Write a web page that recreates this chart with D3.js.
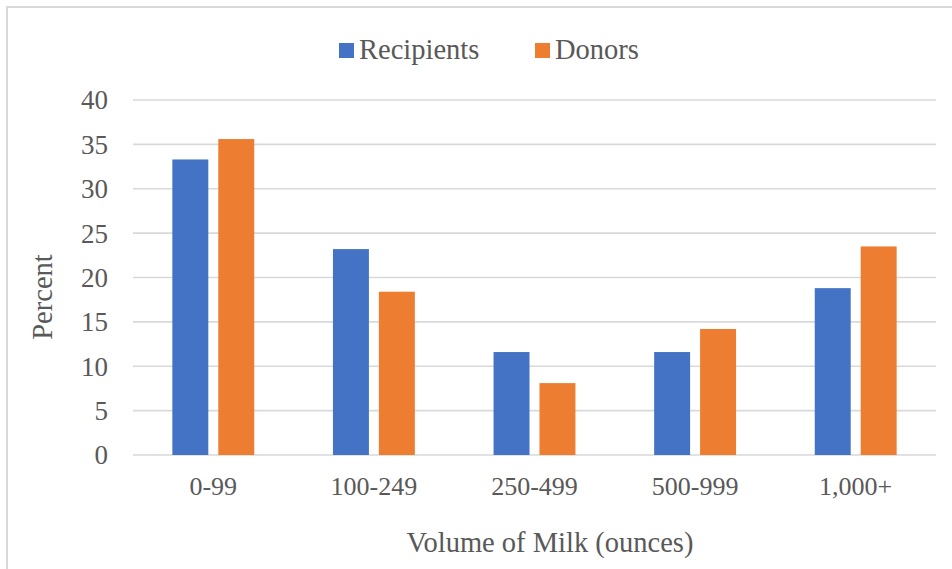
<!DOCTYPE html>
<html>
<head>
<meta charset="utf-8">
<script src="https://cdn.jsdelivr.net/npm/d3@7"></script>
<style>
  html, body { margin: 0; padding: 0; background: #fff; }
  svg { display: block; }
</style>
</head>
<body>
<svg id="chart" width="952" height="569"></svg>
<script>
// Share of participants by volume of milk
const categories = ["0-99", "100-249", "250-499", "500-999", "1,000+"];
const seriesNames = ["Recipients", "Donors"];
const recipients = [33.3, 23.2, 11.6, 11.6, 18.8];
const donors = [35.6, 18.4, 8.1, 14.2, 23.5];
const yTicks = [0, 5, 10, 15, 20, 25, 30, 35, 40];
const colors = ["#4472C4", "#ED7D31"];

const seriesValues = [recipients, donors];
const rows = categories.map((c, i) => ({ cat: c, values: seriesValues.map(s => s[i]) }));

const FONT = "'Liberation Serif', 'Times New Roman', Times, 'DejaVu Serif', serif";
const TEXT = "#595959";

const svg = d3.select("#chart")
  .attr("font-family", FONT);
const W = 952, H = 569;
const plot = { left: 133, right: 936, top: 100, bottom: 455 };

// chart frame (right and bottom edges fall outside the view)
svg.append("path")
  .attr("d", `M7,${H + 5} L7,7 L${W + 5},7`)
  .attr("fill", "none")
  .attr("stroke", "#d9d9d9")
  .attr("stroke-width", 2);

const y = d3.scaleLinear().domain([0, 40]).range([plot.bottom, plot.top]);
const x0 = d3.scaleBand().domain(categories).range([plot.left, plot.right]).padding(0);
const groupW = x0.bandwidth() * 0.51;
const x1 = d3.scaleBand().domain(seriesNames).range([0, groupW]).paddingInner(0.2174).paddingOuter(0);

// horizontal gridlines
svg.append("g")
  .selectAll("line")
  .data(yTicks)
  .join("line")
  .attr("x1", plot.left)
  .attr("x2", plot.right)
  .attr("y1", d => y(d))
  .attr("y2", d => y(d))
  .attr("stroke", "#d9d9d9")
  .attr("stroke-width", 1.6);

// y tick labels
svg.append("g")
  .selectAll("text")
  .data(yTicks)
  .join("text")
  .attr("x", 108)
  .attr("y", d => y(d))
  .attr("dy", "0.35em")
  .attr("text-anchor", "end")
  .attr("font-family", FONT)
  .attr("fill", TEXT)
  .attr("font-size", 27)
  .text(d => d);

// bars
const groups = svg.append("g")
  .selectAll("g")
  .data(rows)
  .join("g")
  .attr("transform", d => `translate(${x0(d.cat) + (x0.bandwidth() - groupW) / 2},0)`);

groups.selectAll("rect")
  .data(d => d.values.map((v, i) => ({ name: seriesNames[i], v, i })))
  .join("rect")
  .attr("x", d => x1(d.name))
  .attr("width", x1.bandwidth())
  .attr("y", d => y(d.v))
  .attr("height", d => y(0) - y(d.v))
  .attr("fill", d => colors[d.i]);

// x tick labels
svg.append("g")
  .selectAll("text")
  .data(categories)
  .join("text")
  .attr("x", d => x0(d) + x0.bandwidth() / 2)
  .attr("y", 495)
  .attr("text-anchor", "middle")
  .attr("font-family", FONT)
  .attr("fill", TEXT)
  .attr("font-size", 26)
  .text(d => d);

// axis titles
svg.append("text")
  .attr("x", 550)
  .attr("y", 552)
  .attr("text-anchor", "middle")
  .attr("font-family", FONT)
  .attr("fill", TEXT)
  .attr("font-size", 28.5)
  .text("Volume of Milk (ounces)");

svg.append("text")
  .attr("transform", "translate(52,297) rotate(-90)")
  .attr("text-anchor", "middle")
  .attr("font-family", FONT)
  .attr("fill", TEXT)
  .attr("font-size", 28.5)
  .text("Percent");

// legend
const legendX = [339, 535];
const legend = svg.append("g")
  .selectAll("g")
  .data(seriesNames)
  .join("g")
  .attr("transform", (d, i) => `translate(${legendX[i]},0)`);

legend.append("rect")
  .attr("x", 0)
  .attr("y", 43)
  .attr("width", 15)
  .attr("height", 15)
  .attr("fill", (d, i) => colors[i]);

legend.append("text")
  .attr("x", 20)
  .attr("y", 59)
  .attr("font-family", FONT)
  .attr("fill", TEXT)
  .attr("font-size", 28.5)
  .text(d => d);
</script>
</body>
</html>
